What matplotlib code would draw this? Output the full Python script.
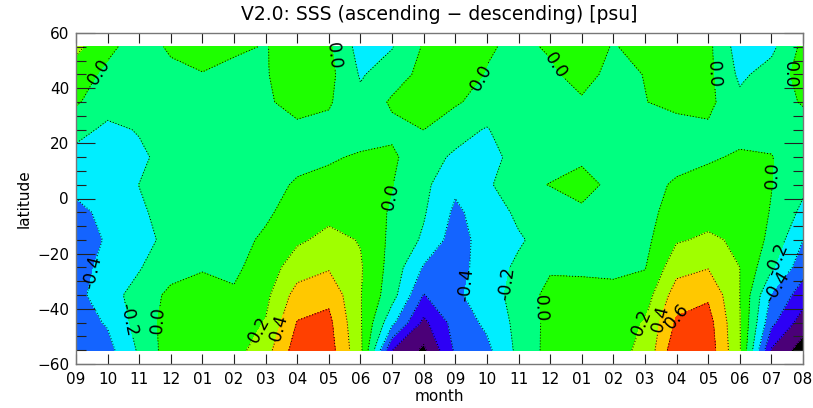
import numpy as np
import matplotlib
matplotlib.use('Agg')
import matplotlib.pyplot as plt
from matplotlib.ticker import MultipleLocator

# ---- data -------------------------------------------------------------
months = ['09', '10', '11', '12', '01', '02', '03', '04', '05', '06', '07', '08',
          '09', '10', '11', '12', '01', '02', '03', '04', '05', '06', '07', '08']
lats = [55, 45, 35, 25, 15, 5, -5, -15, -25, -35, -45, -55]

# SSS ascending - descending [psu], one list per month (north -> south)
sep_y1 = [0.25, 0.10, 0.02, -0.12, -0.28, -0.36, -0.44, -0.50, -0.50, -0.48, -0.50, -0.52]
oct_y1 = [0.05, -0.05, -0.10, -0.25, -0.30, -0.32, -0.36, -0.38, -0.32, -0.25, -0.38, -0.47]
nov_y1 = [-0.10, -0.10, -0.12, -0.185, -0.24, -0.198, -0.22, -0.26, -0.21, -0.15, -0.12, -0.17]
dec_y1 = [0.03, -0.05, -0.10, -0.10, -0.12, -0.12, -0.15, -0.15, -0.10, 0.06, 0.09, 0.11]
jan_y1 = [0.10, -0.01, -0.08, -0.10, -0.10, -0.10, -0.10, -0.08, -0.02, 0.10, 0.14, 0.16]
feb_y1 = [0.03, -0.05, -0.08, -0.10, -0.10, -0.10, -0.08, -0.06, -0.04, 0.025, 0.10, 0.12]
mar_y1 = [-0.01, -0.01, -0.02, -0.06, -0.08, -0.06, -0.03, 0.03, 0.10, 0.15, 0.21, 0.32]
apr_y1 = [0.10, 0.08, 0.05, -0.03, -0.05, 0.02, 0.08, 0.17, 0.30, 0.48, 0.61, 0.70]
may_y1 = [0.03, 0.06, 0.02, -0.05, -0.02, 0.05, 0.15, 0.25, 0.38, 0.55, 0.65, 0.69]
jun_y1 = [-0.28, -0.22, -0.15, -0.08, 0.02, 0.08, 0.10, 0.19, 0.22, 0.21, 0.22, 0.25]
jul_y1 = [-0.21, -0.10, 0.03, -0.05, 0.04, 0.005, -0.02, -0.05, -0.08, -0.12, -0.35, -0.80]
aug_y1 = [0.02, 0.06, 0.05, 0.002, -0.15, -0.15, -0.18, -0.23, -0.42, -0.61, -0.85, -1.04]
sep_y2 = [0.05, 0.08, 0.03, -0.15, -0.22, -0.36, -0.44, -0.50, -0.50, -0.43, -0.52, -0.57]
oct_y2 = [0.02, -0.01, -0.10, -0.21, -0.30, -0.24, -0.30, -0.30, -0.28, -0.32, -0.36, -0.45]
nov_y2 = [-0.04, -0.08, -0.08, -0.10, -0.10, -0.04, -0.165, -0.22, -0.17, -0.10, -0.14, -0.15]
dec_y2 = [0.02, -0.03, -0.08, -0.10, -0.06, 0.005, -0.08, -0.13, -0.02, 0.05, 0.06, 0.07]
jan_y2 = [0.08, 0.06, -0.02, -0.08, -0.02, 0.04, -0.02, -0.10, -0.03, 0.06, 0.10, 0.12]
feb_y2 = [-0.01, -0.05, -0.06, -0.08, -0.08, -0.03, -0.06, -0.08, -0.03, 0.04, 0.12, 0.15]
mar_y2 = [0.05, 0.005, -0.005, -0.07, -0.07, -0.05, -0.06, -0.05, -0.01, 0.10, 0.21, 0.235]
apr_y2 = [0.04, 0.06, 0.05, -0.07, -0.05, 0.02, 0.08, 0.18, 0.33, 0.50, 0.63, 0.75]
may_y2 = [0.05, 0.05, 0.05, -0.03, -0.02, 0.06, 0.13, 0.23, 0.39, 0.57, 0.68, 0.72]
jun_y2 = [-0.30, -0.24, -0.15, -0.05, 0.02, 0.08, 0.12, 0.17, 0.20, 0.20, 0.21, 0.22]
jul_y2 = [-0.25, -0.12, -0.05, -0.04, 0.005, 0.005, -0.01, -0.05, -0.17, -0.42, -0.55, -0.82]
aug_y2 = [0.05, 0.08, 0.01, -0.05, -0.08, -0.15, -0.25, -0.40, -0.52, -0.70, -0.90, -1.10]

columns = [sep_y1, oct_y1, nov_y1, dec_y1, jan_y1, feb_y1, mar_y1, apr_y1,
           may_y1, jun_y1, jul_y1, aug_y1, sep_y2, oct_y2, nov_y2, dec_y2,
           jan_y2, feb_y2, mar_y2, apr_y2, may_y2, jun_y2, jul_y2, aug_y2]

levels = [-2.0, -1.0, -0.8, -0.6, -0.4, -0.2, 0.0, 0.2, 0.4, 0.6, 0.8]
band_colors = ['#000000', '#4B0078', '#2D00F5', '#1464FF', '#00EEFF',
               '#00FF80', '#1EFF00', '#A0FF00', '#FFC800', '#FF4000']

# label anchor points (month index, latitude) per contour level
label_pts = {
    0.0: [(0.28, 49.5), (8.4, 52), (12.4, 47), (15.5, 50), (20.3, 45),
          (22.5, 45), (9.7, 1.3), (21.8, 8.5), (2.5, -44), (14.8, -40)],
    -0.2: [(1.7, -44), (13.5, -30.6), (22.1, -21.6)],
    -0.4: [(0.1, -26), (12.1, -30.6), (22.3, -33)],
    0.2: [(5.5, -46), (17.8, -44)],
    0.4: [(6.2, -46), (18.3, -43)],
    0.6: [(18.8, -42)],
}

# ---- plot -------------------------------------------------------------
x = np.arange(len(months))
y = np.array(lats)
Z = np.column_stack(columns)

fig = plt.figure(figsize=(8.13, 4.08), dpi=100)
ax = fig.add_axes([76 / 813, 44 / 408, 727 / 813, 331 / 408])

ax.contourf(x, y, Z, levels=levels, colors=band_colors)
for lev in levels[1:-1]:
    cs = ax.contour(x, y, Z, levels=[lev], colors='k',
                    linewidths=0.7, linestyles=[(0, (1, 2))])
    if lev in label_pts:
        ax.clabel(cs, manual=label_pts[lev], fmt='%.1f', fontsize=12.5,
                  inline=True, inline_spacing=2, colors='k')

ax.set_xlim(0, 23)
ax.set_ylim(-60, 60)
ax.set_xticks(x)
ax.set_xticklabels(months)
ax.set_yticks(np.arange(-60, 61, 20))
ax.yaxis.set_minor_locator(MultipleLocator(5))

ax.tick_params(axis='x', which='major', direction='in', length=7, width=0.8,
               top=True, bottom=True, labelsize=11, pad=6, color='#222222')
ax.tick_params(axis='y', which='major', direction='in', length=14, width=0.8,
               left=True, right=True, labelsize=11, pad=5, color='#222222')
ax.tick_params(axis='y', which='minor', direction='in', length=7, width=0.8,
               left=True, right=True, color='#222222')
for sp in ax.spines.values():
    sp.set_color('#777777')
    sp.set_linewidth(1.0)

ax.set_xlabel('month', fontsize=11, labelpad=1)
ax.set_ylabel('latitude', fontsize=11, labelpad=4)
ax.set_title('V2.0: SSS (ascending \u2212 descending) [psu]', fontsize=13.5, pad=9)

fig.savefig('out.png', dpi=100)
